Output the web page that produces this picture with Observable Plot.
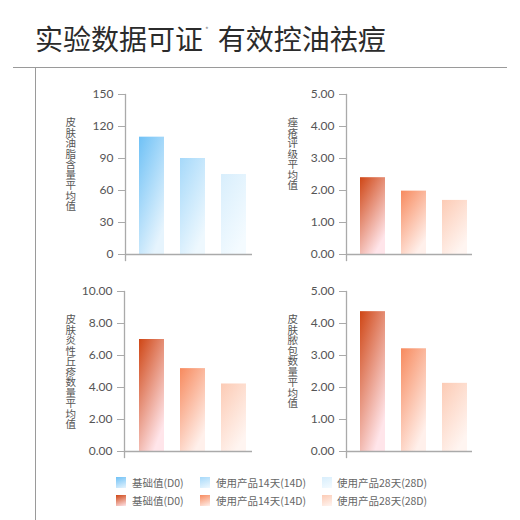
<!DOCTYPE html>
<html>
<head>
<meta charset="utf-8">
<script src="https://cdn.jsdelivr.net/npm/d3@7"></script>
<script src="https://cdn.jsdelivr.net/npm/@observablehq/plot@0.6"></script>
<style>
  html, body { margin: 0; padding: 0; background: #fff; }
  #root { position: relative; width: 520px; height: 520px; overflow: hidden; font-family: "Noto Sans CJK SC", sans-serif; }
  .abs { position: absolute; }
  #title { left: 35px; top: 24px; font-size: 28px; line-height: 1; color: #2b2b2b; white-space: nowrap; }
  #title sup { font-size: 8px; color: #888; vertical-align: top; position: relative; top: 2px; margin: 0 9px 0 2px; }
  .sw { position: absolute; width: 10px; height: 11px; }
  .lt { position: absolute; font-size: 10.5px; line-height: 11px; color: #666; white-space: nowrap; }
  .ylab { position: absolute; writing-mode: vertical-rl; text-orientation: upright; font-size: 10.5px; line-height: 1; color: #555; white-space: nowrap; }
</style>
</head>
<body>
<div id="root">
  <svg width="0" height="0" style="position:absolute">
    <defs id="gradDefs"></defs>
  </svg>
  <div id="title" class="abs">实验数据可证<sup>*</sup>有效控油祛痘</div>
  <div class="abs" style="left:13px;top:67px;width:494px;height:1px;background:#9a9a9a"></div>
  <div class="abs" style="left:35px;top:67px;width:1px;height:453px;background:#9a9a9a"></div>
  <div id="c1" class="abs" style="left:40px;top:80px"></div>
  <div id="c2" class="abs" style="left:270px;top:80px"></div>
  <div id="c3" class="abs" style="left:40px;top:275px"></div>
  <div id="c4" class="abs" style="left:270px;top:275px"></div>
  <div id="labels" class="abs" style="left:0;top:0"></div>
  <div id="legend" class="abs" style="left:0;top:0"></div>
</div>
<script>
// ---- data ----
const periods = ["基础值(D0)", "使用产品14天(14D)", "使用产品28天(28D)"];
const oilValues = [110, 90, 75];
const acneValues = [2.4, 1.98, 1.69];
const papuleValues = [7.0, 5.18, 4.22];
const pustuleValues = [4.37, 3.21, 2.13];
const oilTicks = [0, 30, 60, 90, 120, 150];
const acneTicks = [0, 1, 2, 3, 4, 5];
const papuleTicks = [0, 2, 4, 6, 8, 10];
const pustuleTicks = [0, 1, 2, 3, 4, 5];
const oilLabel = "皮肤油脂含量平均值";
const acneLabel = "痤疮评级平均值";
const papuleLabel = "皮肤炎性丘疹数量平均值";
const pustuleLabel = "皮肤脓包数量平均值";

// ---- styles ----
const palettes = {
  blue: [["#6fc1f6", "#e6f4fd"], ["#a6d9fa", "#eef8fe"], ["#d8eefc", "#f4fbff"]],
  orange: [["#cf4615", "#ffe5ea"], ["#f78a5e", "#fff0eb"], ["#fccbb5", "#fff5f1"]]
};
const defs = document.getElementById("gradDefs");
const NS = "http://www.w3.org/2000/svg";
for (const [name, list] of Object.entries(palettes)) {
  list.forEach(([a, b], i) => {
    const g = document.createElementNS(NS, "linearGradient");
    g.setAttribute("id", name + i);
    g.setAttribute("x1", "0"); g.setAttribute("y1", "0");
    g.setAttribute("x2", "0.6"); g.setAttribute("y2", "1");
    const s1 = document.createElementNS(NS, "stop");
    s1.setAttribute("offset", "0"); s1.setAttribute("stop-color", a);
    const s2 = document.createElementNS(NS, "stop");
    s2.setAttribute("offset", "1"); s2.setAttribute("stop-color", b);
    g.appendChild(s1); g.appendChild(s2);
    defs.appendChild(g);
  });
}

function chart({values, ticks, fmt, palette, width, marginLeft, barRange, marginTop}) {
  const data = periods.map((p, i) => ({period: p, value: values[i], i}));
  const height = 190;
  return Plot.plot({
    width, height,
    marginLeft, marginRight: 8, marginTop, marginBottom: height - marginTop - 160,
    style: {fontFamily: "Lato, sans-serif", fontSize: "12px", color: "#555", background: "transparent", overflow: "visible"},
    x: {domain: periods, range: barRange, paddingInner: 0.4, paddingOuter: 0, axis: null},
    y: {domain: [0, ticks[ticks.length - 1]], label: null, axis: null},
    marks: [
      ...periods.map((p, i) => Plot.barY(data.filter(d => d.i === i), {x: "period", y: "value", fill: `url(#${palette}${i})`})),
      Plot.ruleY([0], {stroke: "#aaa", strokeWidth: 1.3}),
      Plot.frame({anchor: "left", stroke: "#aaa", strokeWidth: 1.3, insetBottom: -6}),
      Plot.axisY({ticks, tickFormat: fmt, tickSize: 7, tickPadding: 5, stroke: "#aaa", fill: "#555", label: null, fontSize: 12})
    ]
  });
}

document.getElementById("c1").appendChild(chart({
  values: oilValues, ticks: oilTicks, fmt: d3.format("d"), palette: "blue",
  width: 220, marginLeft: 85, barRange: [98, 206], marginTop: 14
}));
document.getElementById("c2").appendChild(chart({
  values: acneValues, ticks: acneTicks, fmt: d3.format(".2f"), palette: "orange",
  width: 210, marginLeft: 76, barRange: [89, 197], marginTop: 14
}));
document.getElementById("c3").appendChild(chart({
  values: papuleValues, ticks: papuleTicks, fmt: d3.format(".2f"), palette: "orange",
  width: 220, marginLeft: 84, barRange: [98, 206], marginTop: 16
}));
document.getElementById("c4").appendChild(chart({
  values: pustuleValues, ticks: pustuleTicks, fmt: d3.format(".2f"), palette: "orange",
  width: 210, marginLeft: 76, barRange: [89, 197], marginTop: 16
}));

// ---- vertical axis titles ----
const labelsEl = document.getElementById("labels");
[[oilLabel, 70, 117], [acneLabel, 292, 117], [papuleLabel, 70, 314], [pustuleLabel, 292, 314]].forEach(([txt, cx, top]) => {
  const d = document.createElement("div");
  d.className = "ylab";
  d.style.left = (cx - 5.25) + "px";
  d.style.top = top + "px";
  d.textContent = txt;
  labelsEl.appendChild(d);
});

// ---- legend ----
const legend = document.getElementById("legend");
const swX = [116, 200, 322], txX = [132, 216, 337], rowY = [477, 495];
["blue", "orange"].forEach((pal, r) => {
  periods.forEach((p, i) => {
    const [a, b] = palettes[pal][i];
    const sw = document.createElement("div");
    sw.className = "sw";
    sw.style.left = swX[i] + "px"; sw.style.top = rowY[r] + "px";
    sw.style.background = `linear-gradient(160deg, ${a}, ${b})`;
    legend.appendChild(sw);
    const t = document.createElement("div");
    t.className = "lt";
    t.style.left = txX[i] + "px"; t.style.top = rowY[r] + "px";
    t.textContent = p;
    legend.appendChild(t);
  });
});
</script>
</body>
</html>
